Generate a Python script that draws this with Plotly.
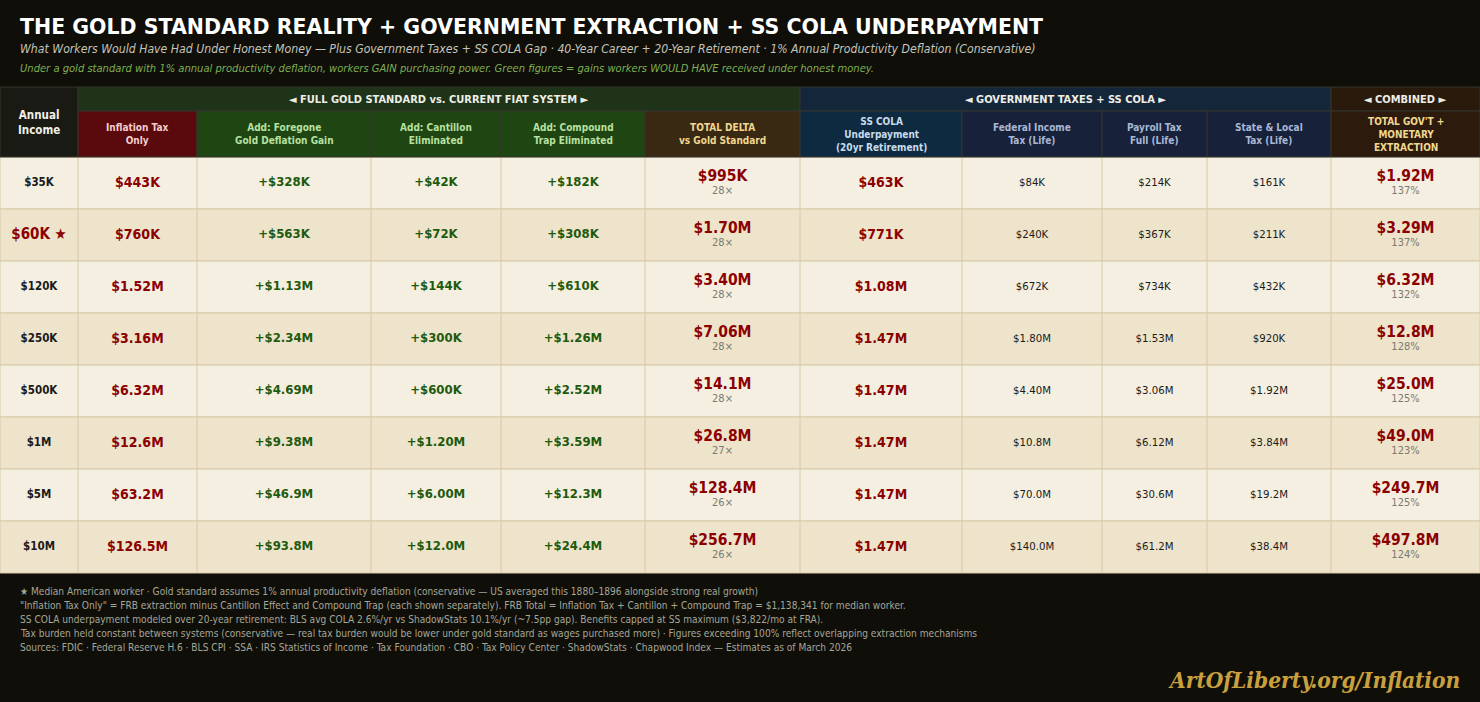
import plotly.graph_objects as go

# ---- data ----
incomes = ["$35K", "$60K ★", "$120K", "$250K", "$500K", "$1M", "$5M", "$10M"]
inflation_tax = ["$443K", "$760K", "$1.52M", "$3.16M", "$6.32M", "$12.6M", "$63.2M", "$126.5M"]
foregone_gain = ["+$328K", "+$563K", "+$1.13M", "+$2.34M", "+$4.69M", "+$9.38M", "+$46.9M", "+$93.8M"]
cantillon = ["+$42K", "+$72K", "+$144K", "+$300K", "+$600K", "+$1.20M", "+$6.00M", "+$12.0M"]
compound_trap = ["+$182K", "+$308K", "+$610K", "+$1.26M", "+$2.52M", "+$3.59M", "+$12.3M", "+$24.4M"]
total_delta = ["$995K", "$1.70M", "$3.40M", "$7.06M", "$14.1M", "$26.8M", "$128.4M", "$256.7M"]
delta_ratio = ["28×", "28×", "28×", "28×", "28×", "27×", "26×", "26×"]
ss_cola = ["$463K", "$771K", "$1.08M", "$1.47M", "$1.47M", "$1.47M", "$1.47M", "$1.47M"]
fed_income_tax = ["$84K", "$240K", "$672K", "$1.80M", "$4.40M", "$10.8M", "$70.0M", "$140.0M"]
payroll_tax = ["$214K", "$367K", "$734K", "$1.53M", "$3.06M", "$6.12M", "$30.6M", "$61.2M"]
state_local_tax = ["$161K", "$211K", "$432K", "$920K", "$1.92M", "$3.84M", "$19.2M", "$38.4M"]
combined = ["$1.92M", "$3.29M", "$6.32M", "$12.8M", "$25.0M", "$49.0M", "$249.7M", "$497.8M"]
combined_pct = ["137%", "137%", "132%", "128%", "125%", "123%", "125%", "124%"]

col_headers = ["Annual<br>Income", "Inflation Tax<br>Only", "Add: Foregone<br>Gold Deflation Gain",
               "Add: Cantillon<br>Eliminated", "Add: Compound<br>Trap Eliminated",
               "TOTAL DELTA<br>vs Gold Standard", "SS COLA<br>Underpayment<br>(20yr Retirement)",
               "Federal Income<br>Tax (Life)", "Payroll Tax<br>Full (Life)", "State & Local<br>Tax (Life)",
               "TOTAL GOV'T +<br>MONETARY<br>EXTRACTION"]
groups = ["◄ FULL GOLD STANDARD vs. CURRENT FIAT SYSTEM ►", "◄ GOVERNMENT TAXES + SS COLA ►", "◄ COMBINED ►"]
group_span = [(1, 5), (6, 9), (10, 10)]

footnotes = [
    "★ Median American worker · Gold standard assumes 1% annual productivity deflation (conservative — US averaged this 1880–1896 alongside strong real growth)",
    "\"Inflation Tax Only\" = FRB extraction minus Cantillon Effect and Compound Trap (each shown separately). FRB Total = Inflation Tax + Cantillon + Compound Trap = $1,138,341 for median worker.",
    "SS COLA underpayment modeled over 20-year retirement: BLS avg COLA 2.6%/yr vs ShadowStats 10.1%/yr (~7.5pp gap). Benefits capped at SS maximum ($3,822/mo at FRA).",
    "Tax burden held constant between systems (conservative — real tax burden would be lower under gold standard as wages purchased more) · Figures exceeding 100% reflect overlapping extraction mechanisms",
    "Sources: FDIC · Federal Reserve H.6 · BLS CPI · SSA · IRS Statistics of Income · Tax Foundation · CBO · Tax Policy Center · ShadowStats · Chapwood Index — Estimates as of March 2026",
]

# ---- layout / styling ----
W, H = 1480, 702
BG = "#0f0e08"
COND = "DejaVu Sans Condensed"
widths = [78, 119, 174, 130, 144, 155, 162, 140, 105, 124, 149]
edges = [0]
for w in widths:
    edges.append(edges[-1] + w)
centers = [(edges[i] + edges[i + 1]) / 2 for i in range(len(widths))]

grp_top, sub_top, body_top, row_h = 87, 111, 157, 52
n_rows = len(incomes)
row_c = [body_top + (i + 0.5) * row_h for i in range(n_rows)]

head_fill = ["#1a1a14", "#5a0a0c", "#1e4512", "#1e4512", "#1e4512", "#3a2912",
             "#0e2a40", "#18213a", "#18213a", "#18213a", "#2c1a0c"]
head_font = ["#f0f0e8", "#f2cccc", "#b8e0a0", "#b8e0a0", "#b8e0a0", "#f0d890",
             "#c8dcec", "#a8b8d4", "#a8b8d4", "#a8b8d4", "#f0d890"]
group_fill = ["#1e3318", "#14263a", "#2a1a0c"]

RED, GREEN, DARK, GRAY = "#8b0000", "#1e5a0e", "#1a1a1a", "#7a7a72"

fig = go.Figure()
shapes, annos = [], []

# header cells
shapes.append(dict(type="rect", x0=edges[0], x1=edges[1], y0=grp_top, y1=body_top,
                   fillcolor=head_fill[0], line=dict(color="#34342c", width=1)))
for (a, b), g, fc in zip(group_span, groups, group_fill):
    shapes.append(dict(type="rect", x0=edges[a], x1=edges[b + 1], y0=grp_top, y1=sub_top,
                       fillcolor=fc, line=dict(color="#34342c", width=1)))
    annos.append(dict(x=(edges[a] + edges[b + 1]) / 2, y=(grp_top + sub_top) / 2, text="<b>" + g + "</b>",
                      font=dict(family=COND, size=11, color="#eeeee6")))
for i in range(1, len(widths)):
    shapes.append(dict(type="rect", x0=edges[i], x1=edges[i + 1], y0=sub_top, y1=body_top,
                       fillcolor=head_fill[i], line=dict(color="#34342c", width=1)))
for i, t in enumerate(col_headers):
    yc = (grp_top + body_top) / 2 if i == 0 else (sub_top + body_top) / 2
    annos.append(dict(x=centers[i], y=yc, text="<b>" + t + "</b>",
                      font=dict(family=COND, size=11.5 if i == 0 else 10, color=head_font[i])))

# body rows
for r in range(n_rows):
    shapes.append(dict(type="rect", x0=0, x1=W, y0=body_top + r * row_h, y1=body_top + (r + 1) * row_h,
                       fillcolor="#f5efe1" if r % 2 == 0 else "#ede4cb",
                       line=dict(color="#d8c8a6", width=1), layer="below"))
for e in edges[1:-1]:
    shapes.append(dict(type="line", x0=e, x1=e, y0=body_top, y1=body_top + n_rows * row_h,
                       line=dict(color="#d8c8a6", width=1), layer="below"))


def text_col(ci, values, color, size, weight="bold", dy=0):
    fig.add_trace(go.Scatter(
        x=[centers[ci]] * len(values), y=[y + dy for y in row_c], text=values, mode="text",
        textposition="middle center", hoverinfo="skip", showlegend=False,
        textfont=dict(family=COND, size=size, color=color, weight=weight)))


inc_colors = [RED if "★" in v else DARK for v in incomes]
inc_sizes = [15 if "★" in v else 11.5 for v in incomes]
text_col(0, incomes, inc_colors, inc_sizes)
text_col(1, inflation_tax, RED, 14)
text_col(2, foregone_gain, GREEN, 13)
text_col(3, cantillon, GREEN, 13)
text_col(4, compound_trap, GREEN, 13)
text_col(5, total_delta, RED, 15.5, dy=-5.5)
text_col(5, delta_ratio, GRAY, 11, weight="normal", dy=8)
text_col(6, ss_cola, RED, 14)
text_col(7, fed_income_tax, DARK, 11.3, weight="normal")
text_col(8, payroll_tax, DARK, 11.3, weight="normal")
text_col(9, state_local_tax, DARK, 11.3, weight="normal")
text_col(10, combined, RED, 15.5, dy=-5.5)
text_col(10, combined_pct, GRAY, 11, weight="normal", dy=8)

# titles
annos.append(dict(x=18, y=27, xanchor="left", text="<b>THE GOLD STANDARD REALITY + GOVERNMENT EXTRACTION + SS COLA UNDERPAYMENT</b>",
                  font=dict(family="DejaVu Sans", size=20.5, color="#ffffff")))
annos.append(dict(x=18, y=49, xanchor="left",
                  text="<i>What Workers Would Have Had Under Honest Money — Plus Government Taxes + SS COLA Gap · 40-Year Career + 20-Year Retirement · 1% Annual Productivity Deflation (Conservative)</i>",
                  font=dict(family=COND, size=12.2, color="#c4c4bc")))
annos.append(dict(x=18, y=68, xanchor="left",
                  text="<i>Under a gold standard with 1% annual productivity deflation, workers GAIN purchasing power. Green figures = gains workers WOULD HAVE received under honest money.</i>",
                  font=dict(family=COND, size=11.1, color="#7fb055")))

for k, line in enumerate(footnotes):
    annos.append(dict(x=18, y=591 + 14 * k, xanchor="left", text=line,
                      font=dict(family=COND, size=10.1, color="#a6a698")))
annos.append(dict(x=1462, y=680, xanchor="right", text="<b><i>ArtOfLiberty.org/Inflation</i></b>",
                  font=dict(family="DejaVu Serif Condensed", size=22.5, color="#c9a03e")))

for a in annos:
    a.setdefault("xref", "x")
    a.setdefault("yref", "y")
    a.setdefault("showarrow", False)
    a.setdefault("xanchor", "center")
    a.setdefault("yanchor", "middle")

fig.update_layout(
    width=W, height=H, autosize=False,
    margin=dict(l=0, r=0, t=0, b=0),
    paper_bgcolor=BG, plot_bgcolor=BG,
    xaxis=dict(range=[0, W], visible=False, fixedrange=True),
    yaxis=dict(range=[H, 0], visible=False, fixedrange=True),
    shapes=shapes, annotations=annos,
)

# drop the browser's default page margin so the figure sits at 0,0
page_css = "document.body.style.margin='0';document.body.style.background='%s';" % BG
fig.write_html("out.html", config={"displayModeBar": False}, post_script=page_css)
